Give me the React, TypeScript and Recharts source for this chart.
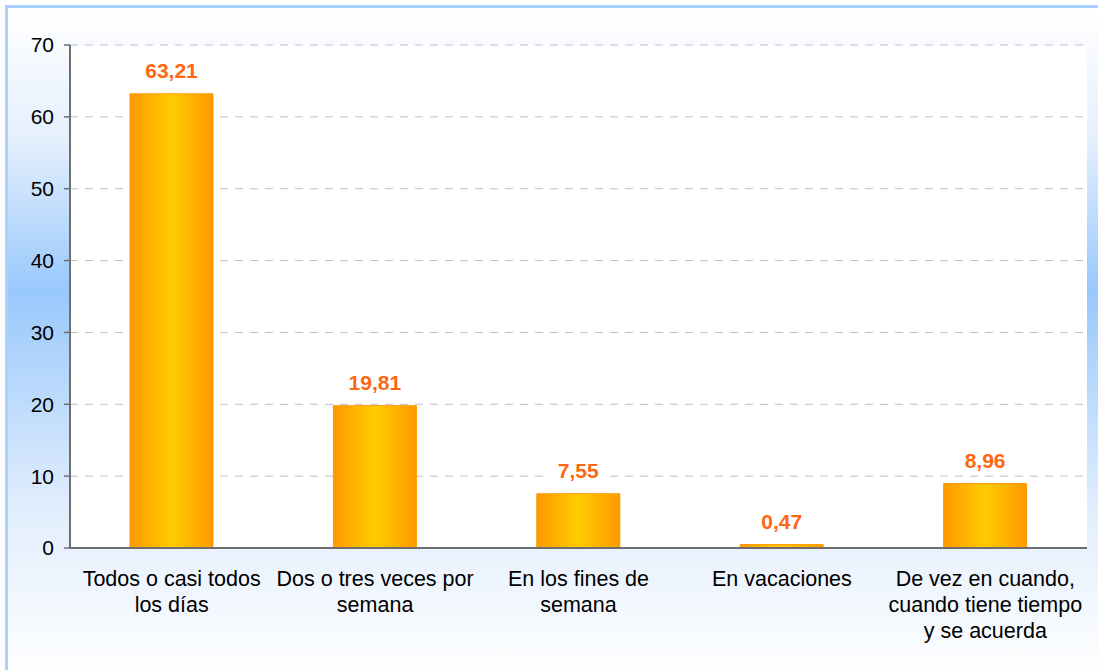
import React from 'react';
import { BarChart, Bar, XAxis, YAxis, CartesianGrid, LabelList } from 'recharts';

// categories (line breaks as in the original labels)
const categories = [
  'Todos o casi todos\nlos días',
  'Dos o tres veces por\nsemana',
  'En los fines de\nsemana',
  'En vacaciones',
  'De vez en cuando,\ncuando tiene tiempo\ny se acuerda',
];
const values = [63.21, 19.81, 7.55, 0.47, 8.96];
const yTicks = [0, 10, 20, 30, 40, 50, 60, 70];
const boundaryTicks = [0, 1, 2, 3, 4, 5];

const data = categories.map((name, i) => ({ name, value: values[i] }));

const AXIS = '#6e6e6e';
const FONT = 'Arial, "Liberation Sans", sans-serif';

const CategoryTick = (props: any) => {
  const { x, y, payload } = props;
  const lines = String(payload.value).split('\n');
  return (
    <text
      x={x}
      y={y + 29}
      textAnchor="middle"
      fill="#000"
      fontSize={21.5}
      fontFamily={FONT}
    >
      {lines.map((ln, i) => (
        <tspan key={i} x={x} dy={i === 0 ? 0 : 26}>
          {ln}
        </tspan>
      ))}
    </text>
  );
};

const ValueLabel = (props: any) => {
  const { x, y, width, value } = props;
  const txt = Number(value).toFixed(2).replace('.', ',');
  const cx = x + width / 2;
  const base = y - 16;
  return (
    <g>
      <rect x={cx - 30} y={base - 17} width={60} height={20} fill="#fff" />
      <text
        x={cx}
        y={base}
        textAnchor="middle"
        fill="#ff6611"
        fontSize={21}
        fontWeight="bold"
        fontFamily={FONT}
      >
        {txt}
      </text>
    </g>
  );
};

export default function App() {
  return (
    <div
      style={{
        position: 'absolute',
        left: 5,
        top: 5,
        width: 1100,
        height: 670,
        borderLeft: '3px solid #a8d2ff',
        borderTop: '3px solid #a8d2ff',
        background: 'linear-gradient(to bottom, #ffffff 0%, #e4effd 20%, #99c8fc 42%, #e2eefd 75%, #ffffff 100%)',
      }}
    >
      <BarChart
        width={1090}
        height={662}
        data={data}
        margin={{ top: 37, right: 11, bottom: 0, left: 0 }}
      >
        <CartesianGrid
          xAxisId="a"
          vertical={false}
          stroke="#c0c0c0"
          strokeDasharray="8 7"
          fill="#ffffff"
          fillOpacity={1}
        />
        <XAxis
          xAxisId="a"
          type="number"
          domain={[0, 5]}
          ticks={boundaryTicks}
          tick={false}
          height={1}
          axisLine={{ stroke: AXIS, strokeWidth: 2 }}
          tickLine={{ stroke: AXIS, strokeWidth: 1.5 }}
          tickSize={6}
        />
        <XAxis
          xAxisId="b"
          dataKey="name"
          type="category"
          interval={0}
          height={121}
          axisLine={false}
          tickLine={false}
          tick={<CategoryTick />}
        />
        <YAxis
          domain={[0, 70]}
          ticks={yTicks}
          width={62}
          axisLine={{ stroke: AXIS, strokeWidth: 2 }}
          tickLine={{ stroke: AXIS, strokeWidth: 1.5 }}
          tickSize={6}
          tickMargin={10}
          tick={{ fill: '#000', fontSize: 21, fontFamily: FONT }}
        />
        <defs>
          <linearGradient id="barFill" x1="0" y1="0" x2="1" y2="0">
            <stop offset="0%" stopColor="#ff9900" />
            <stop offset="50%" stopColor="#ffcc00" />
            <stop offset="100%" stopColor="#ff9900" />
          </linearGradient>
        </defs>
        <Bar
          xAxisId="b"
          dataKey="value"
          fill="url(#barFill)"
          stroke="#ff9900"
          strokeWidth={1}
          barSize={83}
          isAnimationActive={false}
        >
          <LabelList dataKey="value" content={<ValueLabel />} />
        </Bar>
      </BarChart>
    </div>
  );
}
